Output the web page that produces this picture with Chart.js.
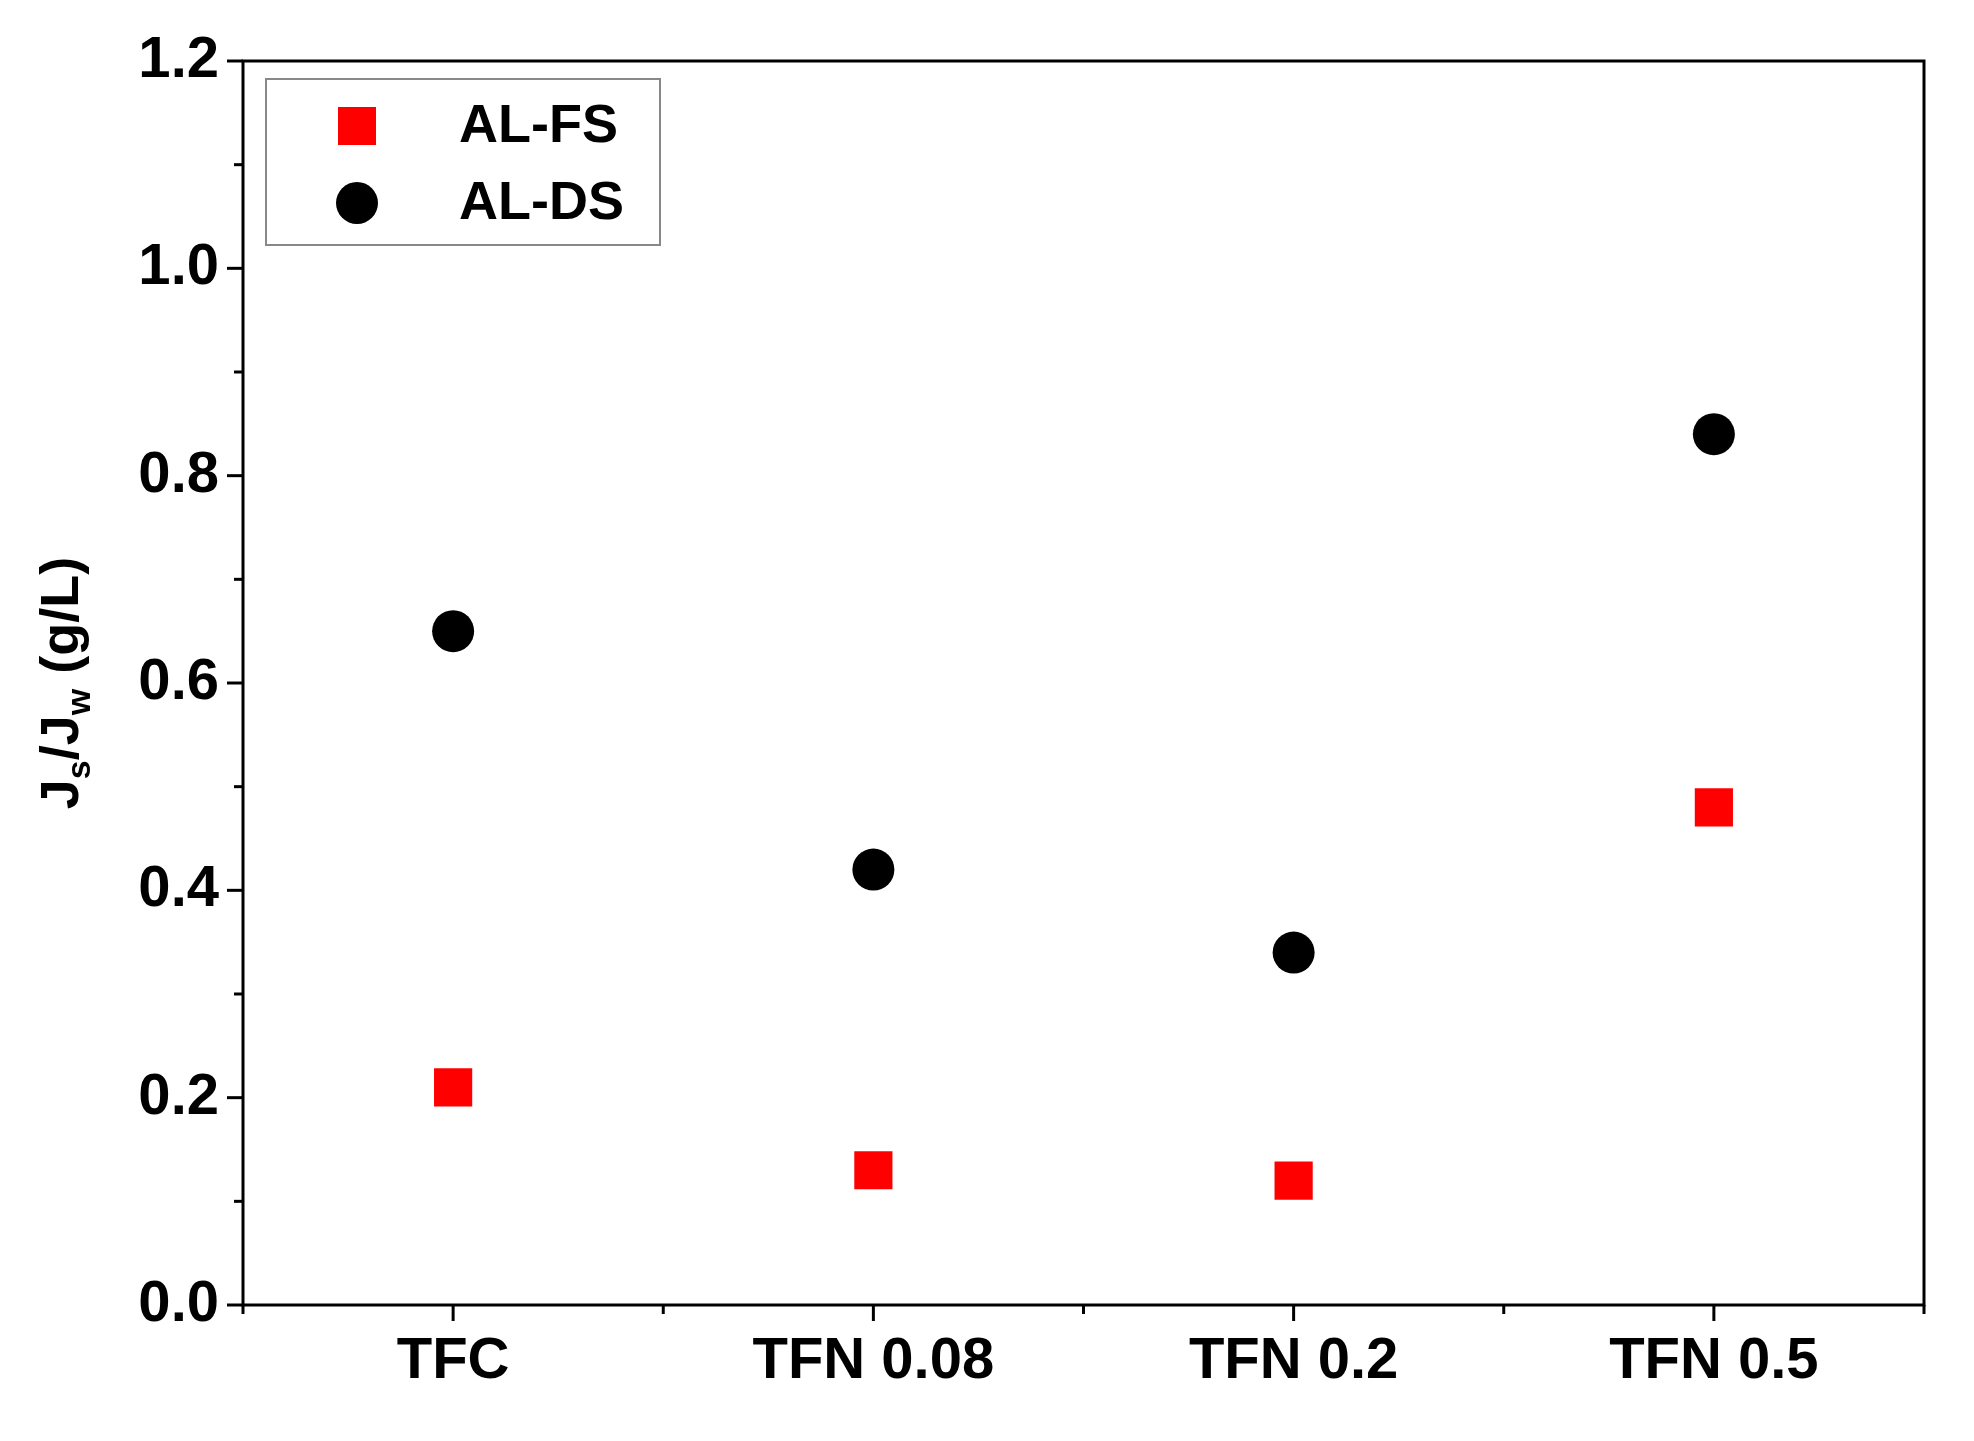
<!DOCTYPE html>
<html><head><meta charset="utf-8">
<script src="https://cdn.jsdelivr.net/npm/chart.js@4"></script>
<style>html,body{margin:0;padding:0;background:#fff}#w{width:1974px;height:1441px}</style>
</head><body><div id="w"><canvas id="c"></canvas></div>
<script>
const categories = ["TFC", "TFN 0.08", "TFN 0.2", "TFN 0.5"];
const alFS = [0.21, 0.13, 0.12, 0.48];
const alDS = [0.65, 0.42, 0.34, 0.84];
const yTicks = [0.0, 0.2, 0.4, 0.6, 0.8, 1.0, 1.2];
const FONT = '"Liberation Sans", Arial, sans-serif';

const deco = {
  id: 'deco',
  afterDraw(chart) {
    const {ctx, chartArea: a, scales: {x, y}} = chart;
    ctx.save();
    ctx.strokeStyle = '#000'; ctx.lineWidth = 3;
    ctx.strokeRect(a.left, a.top, a.right - a.left, a.bottom - a.top);
    for (let v = 0; v <= 1.2001; v += 0.1) {
      const p = y.getPixelForValue(v);
      const major = Math.round(v * 10) % 2 === 0;
      ctx.beginPath(); ctx.moveTo(a.left, p); ctx.lineTo(a.left - (major ? 16 : 9), p); ctx.stroke();
    }
    for (let v = -0.5; v <= 3.5001; v += 0.5) {
      const p = x.getPixelForValue(v);
      const major = Math.abs(v - Math.round(v)) < 1e-6;
      ctx.beginPath(); ctx.moveTo(p, a.bottom); ctx.lineTo(p, a.bottom + (major ? 16 : 9)); ctx.stroke();
    }
    ctx.fillStyle = '#000';
    ctx.translate(58, (a.top + a.bottom) / 2);
    ctx.rotate(-Math.PI / 2);
    ctx.textBaseline = 'alphabetic';
    const big = 'bold 54px ' + FONT, small = 'bold 34px ' + FONT;
    const parts = [['J', big, 0], ['s', small, 12], ['/J', big, 0], ['w', small, 12], [' (g/L)', big, 0]];
    let tw = 0;
    parts.forEach(p => { ctx.font = p[1]; tw += ctx.measureText(p[0]).width; });
    let cx = -tw / 2;
    parts.forEach(p => { ctx.font = p[1]; ctx.fillText(p[0], cx, 20 + p[2]); cx += ctx.measureText(p[0]).width; });
    ctx.restore();
    ctx.save();
    ctx.strokeStyle = '#888'; ctx.lineWidth = 2;
    ctx.strokeRect(266, 79, 394, 166);
    ctx.fillStyle = '#ff0000';
    ctx.fillRect(338, 107, 38, 38);
    ctx.fillStyle = '#000';
    ctx.beginPath(); ctx.arc(357, 203, 21, 0, Math.PI * 2); ctx.fill();
    ctx.font = 'bold 54px ' + FONT; ctx.textBaseline = 'middle';
    ctx.fillText('AL-FS', 459, 127);
    ctx.fillText('AL-DS', 459, 204);
    ctx.restore();
  }
};

new Chart(document.getElementById('c'), {
  type: 'scatter',
  data: {
    datasets: [
      {label: 'AL-FS', data: alFS.map((v, i) => ({x: i, y: v})), pointStyle: 'rect', pointRadius: 27, pointHoverRadius: 27, backgroundColor: '#ff0000', borderColor: '#ff0000', borderWidth: 0},
      {label: 'AL-DS', data: alDS.map((v, i) => ({x: i, y: v})), pointStyle: 'circle', pointRadius: 21, pointHoverRadius: 21, backgroundColor: '#000', borderColor: '#000', borderWidth: 0}
    ]
  },
  options: {
    responsive: true, maintainAspectRatio: false, animation: false,
    devicePixelRatio: 1,
    layout: {padding: {top: 61, right: 50, left: 0, bottom: 0}},
    plugins: {legend: {display: false}, tooltip: {enabled: false}},
    scales: {
      x: {
        type: 'linear', min: -0.5, max: 3.5,
        afterFit(s) { s.height = 136; },
        grid: {display: false, drawTicks: false},
        border: {display: false},
        afterBuildTicks(s) { s.ticks = categories.map((c, i) => ({value: i})); },
        ticks: {callback: v => categories[v] ?? '', font: {family: FONT, size: 58, weight: 'bold'}, color: '#000', padding: 22, maxRotation: 0, autoSkip: false}
      },
      y: {
        min: 0, max: 1.2,
        afterFit(s) { s.width = 243; },
        grid: {display: false, drawTicks: false},
        border: {display: false},
        afterBuildTicks(s) { s.ticks = yTicks.map(v => ({value: v})); },
        ticks: {callback: v => v.toFixed(1), font: {family: FONT, size: 58, weight: 'bold'}, color: '#000', padding: 24}
      }
    }
  },
  plugins: [deco]
});
</script></body></html>
